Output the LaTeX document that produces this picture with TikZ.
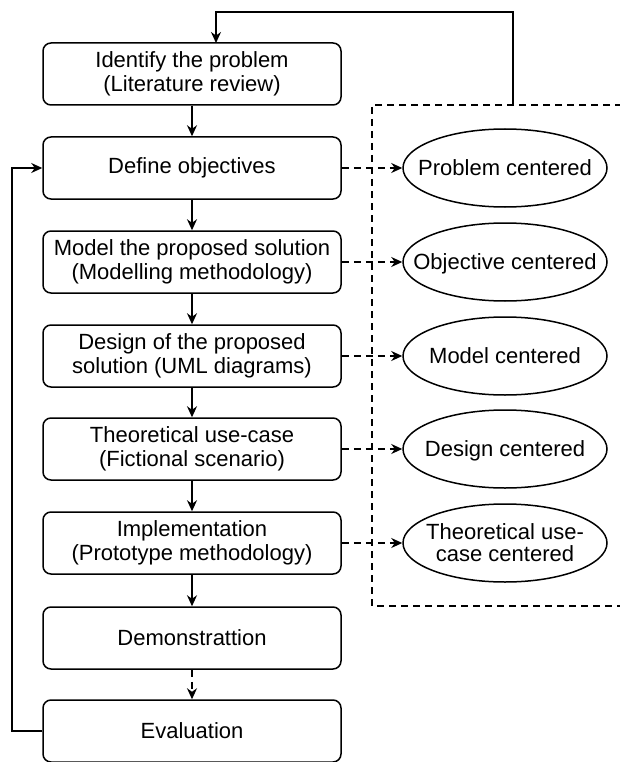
\documentclass[tikz,border=0pt]{standalone}
\usepackage{fontspec}
\setmainfont{Liberation Sans}
\usetikzlibrary{shapes.geometric,arrows.meta}
\newcommand{\fixedtext}[1]{\raisebox{-7.5pt}[0pt][0pt]{\makebox[0pt][c]{\begin{tabular}{@{}c@{}}#1\end{tabular}}}}
\begin{document}
\begin{tikzpicture}[x=1pt,y=-1pt,
  line width=1.5pt,
  >={Stealth[length=11pt,width=10pt]},
  txt/.style={font=\fontsize{22}{24.5}\selectfont, align=center},
  stepbox/.style={txt, draw, rounded corners=8pt, minimum width=298pt, minimum height=62pt, inner sep=0pt},
  oval/.style={font=\fontsize{22}{24.5}\selectfont, draw, ellipse, minimum width=204pt, minimum height=78pt, inner sep=0pt},
  dsh/.style={dash pattern=on 7pt off 5pt}
]
\useasboundingbox (0,0) rectangle (619,762);
\fill[white] (0,0) rectangle (619,762);

\node[stepbox] (b1) at (192,74) {Identify the problem\\(Literature review)};
\node[stepbox] (b2) at (192,168) {Define objectives};
\node[stepbox] (b3) at (192,262) {Model the proposed solution\\(Modelling methodology)};
\node[stepbox] (b4) at (192,356) {Design of the proposed\\solution (UML diagrams)};
\node[stepbox] (b5) at (192,449) {Theoretical use-case\\(Fictional scenario)};
\node[stepbox] (b6) at (192,543) {Implementation\\(Prototype methodology)};
\node[stepbox] (b7) at (192,638) {Demonstrattion};
\node[stepbox] (b8) at (192,731) {Evaluation};

\node[oval] (e1) at (505,168) {\fixedtext{Problem centered}};
\node[oval] (e2) at (505,262) {\fixedtext{Objective centered}};
\node[oval] (e3) at (505,356) {\fixedtext{Model centered}};
\node[oval] (e4) at (505,449) {\fixedtext{Design centered}};
\node[oval] (e5) at (505,543) {\renewcommand{\arraystretch}{0.85}\fixedtext{Theoretical use-\\case centered}};

% dashed group frame
\draw[dsh] (622,105) -- (372,105) -- (372,606) -- (622,606);
\coordinate (fb) at (513,105);

\draw[->] (b1) -- (b2);
\draw[->] (b2) -- (b3);
\draw[->] (b3) -- (b4);
\draw[->] (b4) -- (b5);
\draw[->] (b5) -- (b6);
\draw[->] (b6) -- (b7);
\draw[->,dsh] (b7) -- (b8);

\draw[->,dsh] (b2.east) -- (e1.west);
\draw[->,dsh] (b3.east) -- (e2.west);
\draw[->,dsh] (b4.east) -- (e3.west);
\draw[->,dsh] (b5.east) -- (e4.west);
\draw[->,dsh] (b6.east) -- (e5.west);

\draw[->] (fb) -- (513,12) -- (216,12) -- (216,43);
\draw[->] (b8.west) -- (12,731) -- (12,168) -- (b2.west);
\end{tikzpicture}
\end{document}
